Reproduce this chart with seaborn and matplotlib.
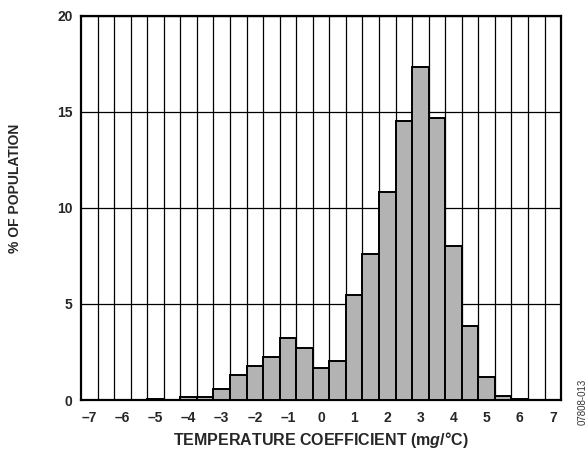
import matplotlib
matplotlib.use("Agg")
import matplotlib.pyplot as plt
import seaborn as sns
import pandas as pd
import numpy as np

# bin centres (mg/°C) and % of population
centers = [-7.0, -6.5, -6.0, -5.5, -5.0, -4.5, -4.0, -3.5, -3.0, -2.5, -2.0, -1.5,
           -1.0, -0.5, 0.0, 0.5, 1.0, 1.5, 2.0, 2.5, 3.0, 3.5, 4.0, 4.5, 5.0, 5.5,
           6.0, 6.5, 7.0]
percent = [0.0, 0.0, 0.0, 0.0, 0.07, 0.0, 0.14, 0.17, 0.56, 1.30, 1.79, 2.26,
           3.21, 2.73, 1.65, 2.05, 5.47, 7.62, 10.85, 14.53, 17.34, 14.70, 8.0, 3.84,
           1.22, 0.21, 0.07, 0.0, 0.0]
xtick_vals = [-7, -6, -5, -4, -3, -2, -1, 0, 1, 2, 3, 4, 5, 6, 7]
ytick_vals = [0, 5, 10, 15, 20]

df = pd.DataFrame({"tc": centers, "pct": percent})

sns.set_style("white")
plt.rcParams['font.family'] = ['Liberation Sans', 'DejaVu Sans']
plt.rcParams['mathtext.fontset'] = 'custom'
plt.rcParams['mathtext.rm'] = 'Liberation Sans:bold'
plt.rcParams['mathtext.bf'] = 'Liberation Sans:bold'
plt.rcParams['mathtext.it'] = 'Liberation Sans:italic:bold'
plt.rcParams['mathtext.bfit'] = 'Liberation Sans:italic:bold'

fig = plt.figure(figsize=(5.87, 4.51), dpi=100)
ax = fig.add_axes([0.138, 0.113, 0.818, 0.852])

sns.barplot(data=df, x="tc", y="pct", native_scale=True, width=1.0,
            color="#b3b3b3", edgecolor="black", linewidth=1.4, saturation=1,
            ax=ax, zorder=3)

ax.set_xlim(-7.25, 7.25)
ax.set_ylim(0, 20)
ax.set_xticks(xtick_vals)
ax.set_xticklabels(["\u2013" + str(abs(v)) if v < 0 else str(v) for v in xtick_vals],
                   fontweight="bold", fontsize=10)
ax.set_yticks(ytick_vals)
ax.set_yticklabels([str(v) for v in ytick_vals], fontweight="bold", fontsize=10)
ax.set_xticks(np.arange(-6.75, 7.0, 0.5), minor=True)
ax.grid(False)
ax.grid(True, which="minor", axis="x", color="black", linewidth=0.9, zorder=0)
ax.grid(True, which="major", axis="y", color="black", linewidth=0.9, zorder=0)
ax.set_axisbelow(True)
ax.tick_params(which="both", length=0)
ax.tick_params(axis="x", pad=8)
ax.tick_params(axis="y", pad=6)

for s in ax.spines.values():
    s.set_color("black")
    s.set_linewidth(1.6)

ax.set_xlabel(r"TEMPERATURE COEFFICIENT (m$\mathit{g}$/°C)", fontweight="bold",
              fontsize=11.5)
ax.xaxis.set_label_coords(0.5, -0.079)
ax.set_ylabel("% OF POPULATION", fontweight="bold", fontsize=10)
ax.yaxis.set_label_coords(-0.122, 0.552)

fig.text(0.992, 0.11, "07808-013", rotation=90, fontsize=7, ha="center", va="center",
         color="#333333")

fig.savefig("out.png", dpi=100, facecolor="white")
